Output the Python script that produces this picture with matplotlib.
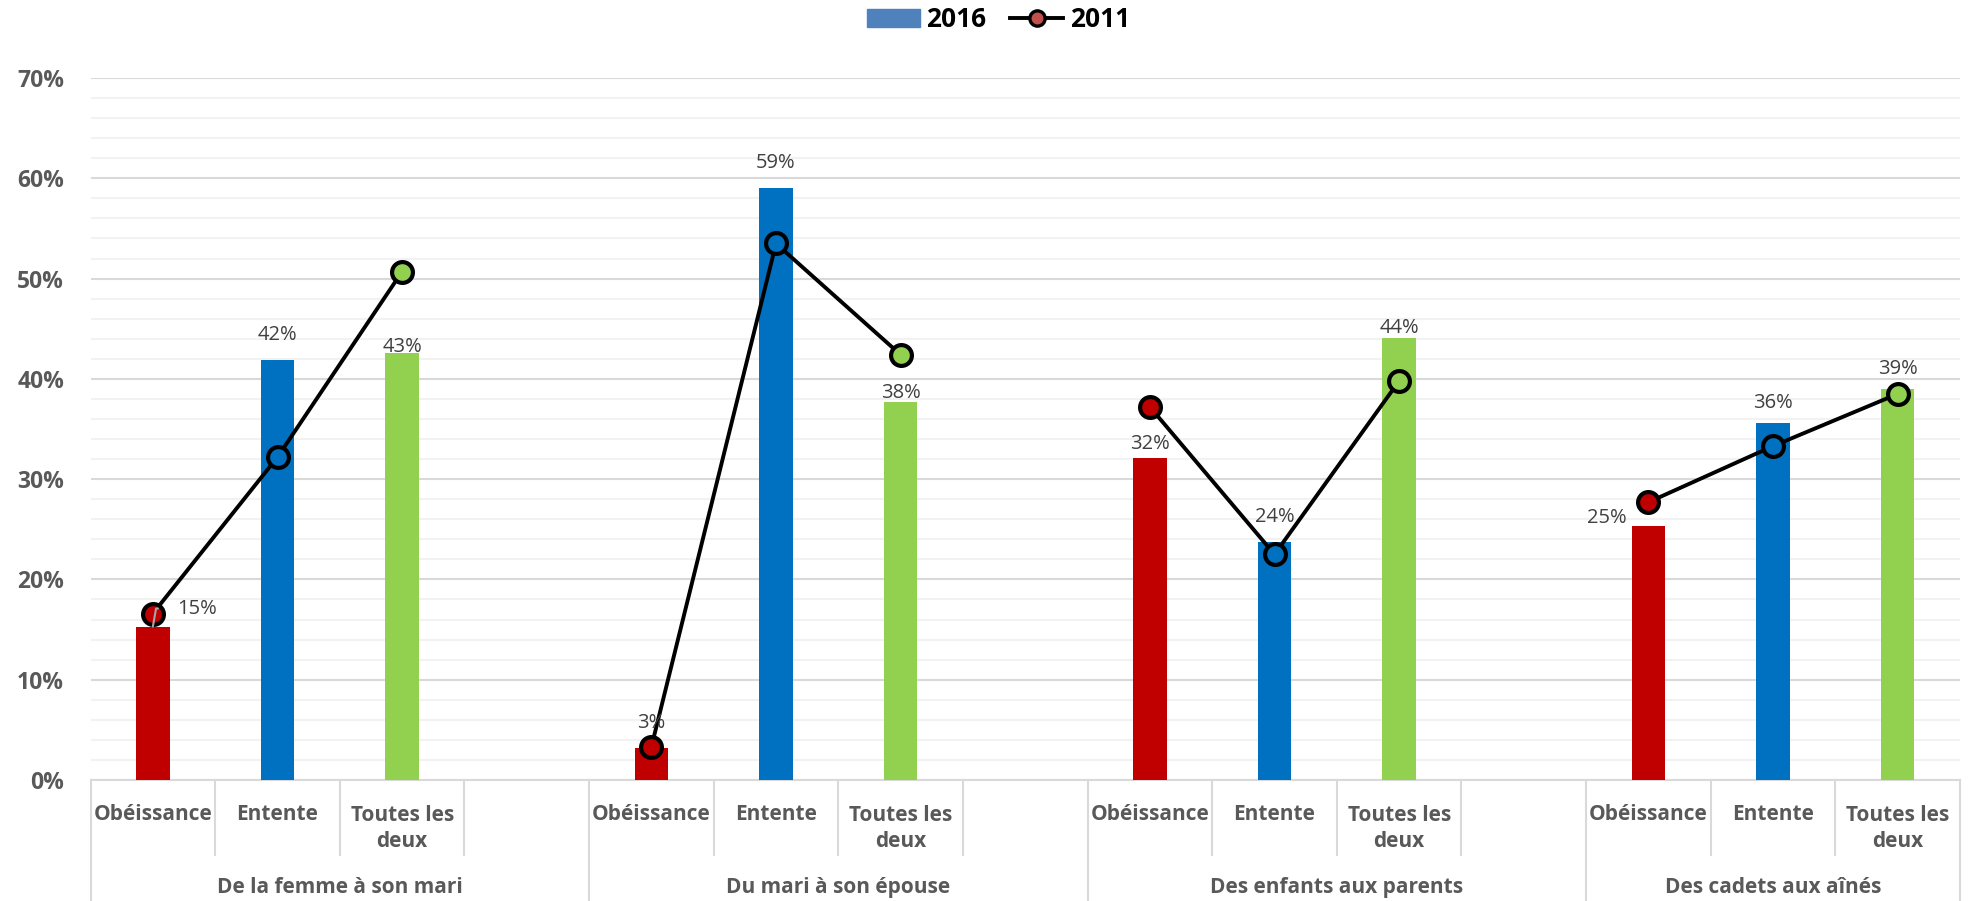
import numpy as np
import matplotlib.pyplot as plt
import matplotlib.transforms as mtransforms
from matplotlib.lines import Line2D
from matplotlib.patches import Patch

plt.rcParams['font.family'] = ['Open Sans', 'DejaVu Sans']

# ── Données ───────────────────────────────────────────────────
groupes = ["De la femme à son mari", "Du mari à son épouse",
           "Des enfants aux parents", "Des cadets aux aînés"]
reponses = ["Obéissance", "Entente", "Toutes les\ndeux"]

val_2016 = [[0.153, 0.419, 0.426],
            [0.032, 0.590, 0.377],
            [0.321, 0.237, 0.441],
            [0.253, 0.356, 0.390]]
val_2011 = [[0.166, 0.322, 0.507],
            [0.033, 0.535, 0.424],
            [0.372, 0.225, 0.398],
            [0.277, 0.333, 0.385]]

couleurs = ["#C00000", "#0070C0", "#92D050"]

# décalage des étiquettes (points) par rapport au haut de la barre
decalages = [[(32, 13), (0, 18), (0, 4.5)],
             [(0, 18), (0, 18.5), (0, 6.5)],
             [(0, 10), (0, 18), (0, 7)],
             [(-30, 6), (0, 14.5), (0, 14.5)]]

GRIS_TXT = "#595959"

fig = plt.figure(figsize=(19.73, 9.01), dpi=100)
ax = fig.add_axes([0.0459, 0.1343, 0.9475, 0.7791])

for g in range(len(groupes)):
    xs = [g * 4 + i for i in range(3)]
    ax.bar(xs, val_2016[g], width=0.27, color=couleurs, zorder=3)
    ax.plot(xs, val_2011[g], color="black", lw=2.8, zorder=4)
    for x, v, c in zip(xs, val_2011[g], couleurs):
        ax.plot(x, v, marker="o", ms=15, mfc=c, mec="black",
                mew=3.0, zorder=5)
    for x, v, (dx, dy) in zip(xs, val_2016[g], decalages[g]):
        lab = f"{round(v * 100)}%"
        if dx > 0:
            ax.annotate(lab, (x, v), xytext=(dx, dy),
                        textcoords="offset points", ha="center",
                        va="center", fontsize=14.5, color="#404040",
                        zorder=6,
                        arrowprops=dict(arrowstyle="-", color="#A6A6A6",
                                        lw=1.5, shrinkA=12, shrinkB=0,
                                        connectionstyle="angle,angleA=0,angleB=80,rad=0"))
        else:
            ax.annotate(lab, (x, v), xytext=(dx, dy),
                        textcoords="offset points", ha="center",
                        va="center", fontsize=14.5, color="#404040",
                        zorder=6)

ax.set_xlim(-0.5, 14.5)
ax.set_ylim(0, 0.70)
ax.set_xticks([])
ax.set_yticks(np.arange(0, 0.701, 0.1))
ax.set_yticks(np.arange(0, 0.701, 0.02), minor=True)
ax.set_yticklabels([f"{int(round(t * 100))}%" for t in np.arange(0, 0.701, 0.1)],
                   fontsize=16.5, fontweight="bold", color=GRIS_TXT)
ax.tick_params(axis="y", which="both", length=0, pad=19)
ax.yaxis.grid(True, which="minor", color="#F2F2F2", lw=1.5)
ax.yaxis.grid(True, which="major", color="#D9D9D9", lw=1.5)
ax.set_axisbelow(True)
for s in ax.spines.values():
    s.set_visible(False)

# ── Axe des catégories (deux niveaux) ─────────────────────────
trans = mtransforms.blended_transform_factory(ax.transData, ax.transAxes)
ax.plot([-0.5, 14.5], [0, 0], color="#D9D9D9", lw=1.5, transform=trans,
        clip_on=False, zorder=2)
for xb in [-0.5, 3.5, 7.5, 11.5, 14.5]:
    ax.plot([xb, xb], [0, -0.2], color="#D9D9D9", lw=1.5,
            transform=trans, clip_on=False)
for g in range(len(groupes)):
    nb = 3 if g == len(groupes) - 1 else 4
    for k in range(1, nb):
        xb = g * 4 + k - 0.5
        ax.plot([xb, xb], [0, -0.107], color="#D9D9D9", lw=1.5,
                transform=trans, clip_on=False)
    for i, r in enumerate(reponses):
        # baseline de la dernière ligne
        y_txt = -0.0954 if "\n" in r else -0.057
        ax.text(g * 4 + i, y_txt, r, transform=trans, ha="center",
                va="baseline", fontsize=15, fontweight="bold",
                color=GRIS_TXT, linespacing=1.3)
    ax.text(g * 4 + 1.5 if nb == 4 else g * 4 + 1, -0.161, groupes[g],
            transform=trans, ha="center", va="baseline", fontsize=15,
            fontweight="bold", color=GRIS_TXT)

# ── Légende ───────────────────────────────────────────────────
poignees = [Patch(color="#4F81BD"),
            Line2D([], [], color="black", lw=2.8, marker="o", ms=11,
                   mfc="#C0504D", mec="black", mew=2.4)]
fig.legend(poignees, ["2016", "2011"], loc="center",
           bbox_to_anchor=(0.506, 0.978), ncol=2, frameon=False,
           prop=dict(weight="bold", size=19), handlelength=2.0,
           handletextpad=0.25, columnspacing=0.9)

fig.savefig("out.png", dpi=100)
